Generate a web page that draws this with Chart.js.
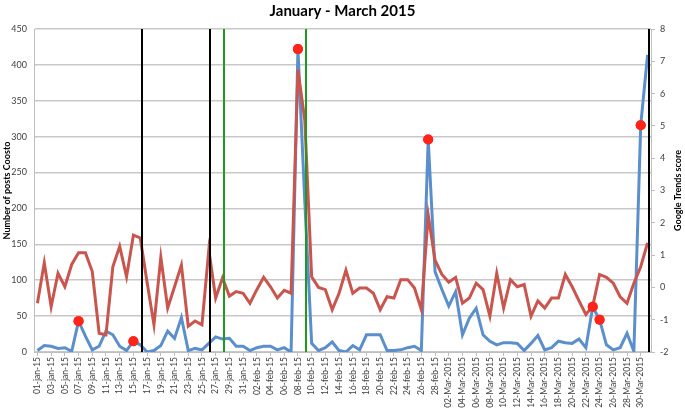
<!DOCTYPE html>
<html><head><meta charset="utf-8">
<script src="https://cdn.jsdelivr.net/npm/chart.js@4.4.1/dist/chart.umd.min.js"></script>
<style>html,body{margin:0;padding:0;background:#fff}#wrap{width:685px;height:408px}</style>
</head><body><div id="wrap"><canvas id="c" width="685" height="408"></canvas></div>
<script>
const janDays = ['01-jan-15','02-jan-15','03-jan-15','04-jan-15','05-jan-15','06-jan-15','07-jan-15','08-jan-15','09-jan-15','10-jan-15','11-jan-15','12-jan-15','13-jan-15','14-jan-15','15-jan-15','16-jan-15','17-jan-15','18-jan-15','19-jan-15','20-jan-15','21-jan-15','22-jan-15','23-jan-15','24-jan-15','25-jan-15','26-jan-15','27-jan-15','28-jan-15','29-jan-15','30-jan-15','31-jan-15'];
const febDays = ['01-feb-15','02-feb-15','03-feb-15','04-feb-15','05-feb-15','06-feb-15','07-feb-15','08-feb-15','09-feb-15','10-feb-15','11-feb-15','12-feb-15','13-feb-15','14-feb-15','15-feb-15','16-feb-15','17-feb-15','18-feb-15','19-feb-15','20-feb-15','21-feb-15','22-feb-15','23-feb-15','24-feb-15','25-feb-15','26-feb-15','27-feb-15','28-feb-15'];
const marDays = ['01-Mar-2015','02-Mar-2015','03-Mar-2015','04-Mar-2015','05-Mar-2015','06-Mar-2015','07-Mar-2015','08-Mar-2015','09-Mar-2015','10-Mar-2015','11-Mar-2015','12-Mar-2015','13-Mar-2015','14-Mar-2015','15-Mar-2015','16-Mar-2015','17-Mar-2015','18-Mar-2015','19-Mar-2015','20-Mar-2015','21-Mar-2015','22-Mar-2015','23-Mar-2015','24-Mar-2015','25-Mar-2015','26-Mar-2015','27-Mar-2015','28-Mar-2015','29-Mar-2015','30-Mar-2015','31-Mar-2015'];
const categories = [...janDays, ...febDays, ...marDays];

// Number of posts Coosto (left axis)
const postsCoosto = [2,9,8,5,6,1,43,22,3,8,29,24,8,2,15,10,0,2,9,29,19,48,2,5,3,12,21,18,19,8,
  8,2,6,8,8,3,6,0,422,210,12,2,6,14,2,0,9,3,24,24,24,2,2,3,6,8,2,296,112,87,
  64,84,24,47,61,24,15,10,13,13,12,2,12,23,3,6,15,13,12,18,6,63,45,10,3,6,26,1,316,414];

// Google Trends score (right axis)
const googleTrends = [-0.49,0.76,-0.6,0.44,0.02,0.71,1.07,1.07,0.49,-1.42,-1.47,0.64,1.27,0.33,1.62,1.53,0.15,-1.16,0.93,-0.64,0.02,0.69,-1.2,-1.04,-1.16,1.16,-0.33,0.29,-0.27,-0.13,
  -0.18,-0.49,-0.07,0.31,0.02,-0.33,-0.09,-0.18,6.73,5.18,0.33,0,-0.07,-0.69,-0.18,0.53,-0.18,-0.02,-0.02,-0.18,-0.69,-0.29,-0.33,0.24,0.24,-0.02,-0.69,2.24,0.84,0.4,
  0.16,0.31,-0.49,-0.33,0.13,-0.07,-0.89,0.44,-0.64,0.24,0.02,0.09,-0.89,-0.42,-0.64,-0.33,-0.33,0.4,0.02,-0.42,-0.84,-0.58,0.4,0.31,0.13,-0.29,-0.49,0.13,0.64,1.38];

const highlightDays = ['07-jan-15','15-jan-15','08-feb-15','27-feb-15','23-Mar-2015','24-Mar-2015','30-Mar-2015'];
const blackLineDays = ['16-jan-15','26-jan-15','31-Mar-2015'];
const greenLineDays = ['28-jan-15','09-feb-15'];

const leftTicks = {min: 0, max: 450, step: 50};
const rightTicks = {min: -2, max: 8, step: 1};

const highlightData = categories.map((d, i) => highlightDays.includes(d) ? postsCoosto[i] : null);

const FONT = 'Lato, "Open Sans", sans-serif';

const overlay = {
  id: 'overlay',
  afterDatasetsDraw(chart) {
    const {ctx, chartArea: a, scales: {x}} = chart;
    const step = x.getPixelForValue(1) - x.getPixelForValue(0);
    const draw = (days, color, w) => days.forEach(d => {
      const px = Math.round(x.getPixelForValue(categories.indexOf(d)) + 0.22 * step);
      ctx.save();
      ctx.strokeStyle = color; ctx.lineWidth = w;
      ctx.beginPath(); ctx.moveTo(px, a.top); ctx.lineTo(px, a.bottom); ctx.stroke();
      ctx.restore();
    });
    draw(greenLineDays, '#1f9a1f', 2);
    draw(blackLineDays, '#000000', 2);
    const meta = chart.getDatasetMeta(0);
    meta.data.forEach((el, i) => { if (highlightData[i] != null) el.draw(ctx, a); });
  },
  afterDraw(chart) {
    const {ctx, chartArea: a} = chart;
    ctx.save();
    ctx.font = 'bold 9px ' + FONT;
    ctx.fillStyle = '#000';
    ctx.textAlign = 'center'; ctx.textBaseline = 'middle';
    ctx.translate(678, (a.top + a.bottom) / 2);
    ctx.rotate(-Math.PI / 2);
    ctx.fillText('Google Trends score', 0, 0);
    ctx.restore();
  }
};

new Chart(document.getElementById('c'), {
  type: 'line',
  data: {
    labels: categories,
    datasets: [
      {label: 'highlight', data: highlightData, yAxisID: 'y', showLine: false, order: 0,
       pointRadius: 5, pointHoverRadius: 5, pointBackgroundColor: '#ff2419', pointBorderColor: '#ff2419', pointBorderWidth: 0},
      {label: 'Google Trends score', data: googleTrends, yAxisID: 'y1', order: 1,
       borderColor: '#c9554f', borderWidth: 3, pointRadius: 0, tension: 0, fill: false},
      {label: 'Number of posts Coosto', data: postsCoosto, yAxisID: 'y', order: 2,
       borderColor: '#5a8fcb', borderWidth: 3, pointRadius: 0, tension: 0, fill: false}
    ]
  },
  options: {
    responsive: false, animation: false, devicePixelRatio: 1,
    layout: {padding: 0},
    plugins: {
      legend: {display: false}, tooltip: {enabled: false},
      title: {display: true, text: 'January - March 2015', color: '#000',
        font: {family: FONT, size: 15, weight: 'bold'}, padding: {top: 2, bottom: 9}}
    },
    scales: {
      x: {
        type: 'category', offset: true,
        afterFit: s => { s.height = 56; },
        grid: {display: true, drawOnChartArea: false, tickLength: 4,
          color: c => (c.index % 2 === 0 ? '#bfbfbf' : 'rgba(0,0,0,0)')},
        border: {display: true, color: '#bfbfbf', width: 1},
        ticks: {autoSkip: false, maxRotation: 90, minRotation: 90, padding: 1, color: '#404040',
          font: {family: FONT, size: 8.5},
          callback: (v, i) => (i % 2 === 0 ? categories[i] : '')}
      },
      y: {
        position: 'left', min: leftTicks.min, max: leftTicks.max,
        afterFit: s => { s.width = 34; },
        ticks: {stepSize: leftTicks.step, padding: 7, color: '#404040', font: {family: FONT, size: 9}},
        grid: {color: '#c8c8c8', lineWidth: 1.5, drawTicks: false},
        border: {display: true, color: '#bfbfbf', width: 1},
        title: {display: true, text: 'Number of posts Coosto', color: '#000',
          font: {family: FONT, size: 9, weight: 'bold'}, padding: {top: 2, bottom: 0}}
      },
      y1: {
        position: 'right', min: rightTicks.min, max: rightTicks.max,
        afterFit: s => { s.width = 34; },
        ticks: {stepSize: rightTicks.step, padding: 5, color: '#404040', font: {family: FONT, size: 9}},
        grid: {drawOnChartArea: false, drawTicks: true, tickLength: 4, color: '#bfbfbf'},
        border: {display: true, color: '#bfbfbf', width: 1}
      }
    }
  },
  plugins: [overlay]
});
</script></body></html>
